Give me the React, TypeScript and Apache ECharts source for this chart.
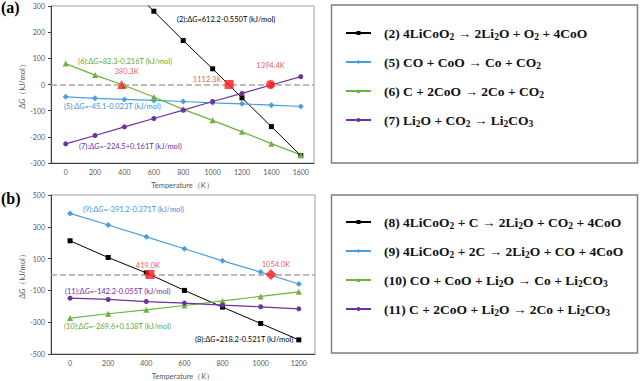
import React, { useEffect, useRef } from 'react';
import * as echarts from 'echarts';

// ---------- data ----------
const tempsA = [0, 200, 400, 600, 800, 1000, 1200, 1400, 1600];
const r2 = [null, null, 392, 280, 168, 60, -51, -161, -272];
const r5 = [-47, -53, -57, -61, -65, -70, -74, -79, -84];
const r6 = [80, 36, -4, -48, -95, -137, -181, -226, -269];
const r7 = [-227, -195, -162, -130, -98, -65, -34, -2, 30];
const crossA = [380.3, 1112.3, 1394.4];
const crossASymbols = ['triangle', 'rect', 'circle'];

const tempsB = [0, 200, 400, 600, 800, 1000, 1200];
const r8 = [212, 107, 10, -100, -205, -308, -411];
const r9 = [384, 311, 237, 162, 86, 15, -60];
const r10 = [-274, -247, -222, -195, -166, -138, -109];
const r11 = [-149, -157, -170, -180, -193, -203, -216];
const crossB = [419.0, 1054.0];
const crossBSymbols = ['rect', 'diamond'];

const yTicksA = [-300, -200, -100, 0, 100, 200, 300];
const yTicksB = [-500, -300, -100, 100, 300, 500];

const legendA = [
  ['r2', '(2) 4LiCoO_2 → 2Li_2O + O_2 + 4CoO'],
  ['r5', '(5) CO + CoO → Co + CO_2'],
  ['r6', '(6) C + 2CoO → 2Co + CO_2'],
  ['r7', '(7) Li_2O + CO_2 → Li_2CO_3'],
];
const legendB = [
  ['r8', '(8) 4LiCoO_2 + C → 2Li_2O + CO_2 + 4CoO'],
  ['r9', '(9) 4LiCoO_2 + 2C → 2Li_2O + CO + 4CoO'],
  ['r10', '(10) CO + CoO + Li_2O → Co + Li_2CO_3'],
  ['r11', '(11) C + 2CoO + Li_2O → 2Co + Li_2CO_3'],
];

const eqA = [
  ['(2):Δ{i|G}=612.2-0.550T (kJ/mol)', '#000000'],
  ['(6):Δ{i|G}=82.3-0.216T (kJ/mol)', '#5fa83a'],
  ['(5):Δ{i|G}=-45.1-0.023T (kJ/mol)', '#3d94dc'],
  ['(7):Δ{i|G}=-224.5+0.161T (kJ/mol)', '#7030a0'],
];
const eqB = [
  ['(9):Δ{i|G}=-391.2-0.371T (kJ/mol)', '#3d94dc'],
  ['(11):Δ{i|G}=-142.2-0.055T (kJ/mol)', '#7030a0'],
  ['(10):Δ{i|G}=-269.6+0.138T (kJ/mol)', '#5fa83a'],
  ['(8):Δ{i|G}=218.2-0.521T (kJ/mol)', '#000000'],
];

// ---------- styles ----------
const SANS = 'Lato, "Liberation Sans", sans-serif';
const SERIF = '"Liberation Serif", "DejaVu Serif", serif';
const BLACK = '#000000';
const BLUE = '#4a9ee0';
const GREEN = '#6db33f';
const PURPLE = '#7030a0';
const RED = '#ff1a1a';

const eqPosA = [[177, 19], [78, 61], [64, 106], [79, 146]];
const eqPosB = [[83, 209], [65, 291], [64, 326], [195, 339]];

const labelOffA = [[5, 0], [-22, 8], [0, -6]];
const labelOffB = [[-2, 4], [5, 4]];

function toRich(s: string) {
  return s
    .split(/(_\d)/)
    .filter((p) => p.length > 0)
    .map((p) => (p.startsWith('_') ? `{s|${p.slice(1)}}` : `{n|${p}}`))
    .join('');
}

function pairs(xs: number[], ys: (number | null)[]) {
  const out: number[][] = [];
  xs.forEach((x, i) => {
    const y = ys[i];
    if (y !== null && y !== undefined) out.push([x, y]);
  });
  return out;
}

function lineSeries(name: string, grid: number, xs: number[], ys: (number | null)[], color: string, symbol: string, size: number, width: number, extra: any = {}) {
  return {
    type: 'line',
    name,
    xAxisIndex: grid,
    yAxisIndex: grid,
    data: pairs(xs, ys),
    symbol,
    symbolSize: size,
    showSymbol: true,
    clip: true,
    color,
    itemStyle: { color },
    lineStyle: { color, width },
    z: 3,
    ...extra,
  };
}

function zeroLine() {
  return {
    markLine: {
      silent: true,
      symbol: ['none', 'none'],
      label: { show: false },
      lineStyle: { type: 'dashed', color: '#a6a6a6', width: 1.5 },
      data: [{ yAxis: 0 }],
    },
  };
}

function crossSeries(grid: number, xs: number[], syms: string[], offs: number[][]) {
  return {
    type: 'scatter',
    name: 'cross' + grid,
    xAxisIndex: grid,
    yAxisIndex: grid,
    z: 5,
    data: xs.map((x, i) => ({
      value: [x, 0],
      symbol: syms[i],
      symbolSize: syms[i] === 'diamond' ? 11 : 9,
      label: {
        show: true,
        position: 'top',
        distance: 5,
        offset: offs[i],
        formatter: x.toFixed(1) + 'K',
        color: '#e8302a',
        fontSize: 7.5,
        fontFamily: SANS,
      },
    })),
    itemStyle: { color: RED },
  };
}

function xAxis(grid: number, max: number, ticks: number[]) {
  return {
    type: 'value',
    gridIndex: grid,
    min: -100,
    max,
    axisLine: { show: true, onZero: false, lineStyle: { color: '#404040', width: 1 } },
    axisTick: { show: false },
    splitLine: { show: false },
    axisLabel: { customValues: ticks, formatter: (v: number) => String(v), color: '#595959', fontSize: 7, fontFamily: SANS, margin: 5 },
    name: 'Temperature（K）',
    nameLocation: 'middle',
    nameGap: 18,
    nameTextStyle: { color: '#595959', fontSize: 7.5, fontFamily: SANS },
  };
}

function yAxis(grid: number, min: number, max: number, ticks: number[]) {
  return {
    type: 'value',
    gridIndex: grid,
    min,
    max,
    axisLine: { show: true, onZero: false, lineStyle: { color: '#404040', width: 1 } },
    axisTick: { show: true, customValues: ticks, length: 3, lineStyle: { color: '#404040' } },
    splitLine: { show: false },
    axisLabel: { customValues: ticks, formatter: (v: number) => String(v), color: '#595959', fontSize: 7, fontFamily: SANS, margin: 6 },
    name: 'Δ{i|G}（kJ/mol）',
    nameLocation: 'middle',
    nameGap: 23,
    nameTextStyle: {
      color: '#595959',
      fontSize: 7.5,
      fontFamily: SANS,
      rich: { i: { fontStyle: 'italic', fontSize: 7.5, fontFamily: SANS, color: '#595959' } },
    },
  };
}

function legend(items: string[][], top: number) {
  const map: Record<string, string> = {};
  items.forEach(([k, v]) => (map[k] = toRich(v)));
  return {
    data: items.map(([k]) => k),
    orient: 'vertical',
    left: 340,
    top,
    itemWidth: 25,
    itemHeight: 5,
    itemGap: 13,
    selectedMode: false,
    formatter: (name: string) => map[name],
    textStyle: {
      padding: [0, 0, 0, 8],
      rich: {
        n: { fontFamily: SERIF, fontWeight: 'bold', fontSize: 13.5, lineHeight: 18, color: '#111' },
        s: { fontFamily: SERIF, fontWeight: 'bold', fontSize: 9.5, lineHeight: 18, verticalAlign: 'bottom', color: '#111' },
      },
    },
  };
}

function eqTexts(list: string[][], pos: number[][]) {
  return list.map(([t, c], i) => ({
    type: 'text',
    x: pos[i][0],
    y: pos[i][1],
    style: {
      text: t,
      fill: c,
      fontSize: 7.5,
      fontFamily: SANS,
      verticalAlign: 'middle',
      rich: { i: { fontStyle: 'italic', fontSize: 7.5, fontFamily: SANS, fill: c } },
    },
  }));
}

function buildOption() {
  return {
    animation: false,
    backgroundColor: '#ffffff',
    grid: [
      { left: 51, top: 6, width: 263, height: 157, show: true, borderColor: '#a0a0a0', borderWidth: 1 },
      { left: 51, top: 195, width: 264, height: 159, show: true, borderColor: '#a0a0a0', borderWidth: 1 },
    ],
    xAxis: [xAxis(0, 1690, tempsA), xAxis(1, 1285, tempsB)],
    yAxis: [yAxis(0, -300, 300, yTicksA), yAxis(1, -500, 500, yTicksB)],
    legend: [legend(legendA, 21), legend(legendB, 210)],
    series: [
      lineSeries('r2', 0, tempsA, r2, BLACK, 'rect', 5, 1),
      lineSeries('r5', 0, tempsA, r5, BLUE, 'diamond', 6, 1.2, zeroLine()),
      lineSeries('r6', 0, tempsA, r6, GREEN, 'triangle', 6, 1.2),
      lineSeries('r7', 0, tempsA, r7, PURPLE, 'circle', 5, 1.2),
      crossSeries(0, crossA, crossASymbols, labelOffA),
      lineSeries('r8', 1, tempsB, r8, BLACK, 'rect', 5, 1),
      lineSeries('r9', 1, tempsB, r9, BLUE, 'diamond', 6, 1.2, zeroLine()),
      lineSeries('r10', 1, tempsB, r10, GREEN, 'triangle', 6, 1.2),
      lineSeries('r11', 1, tempsB, r11, PURPLE, 'circle', 5, 1.2),
      crossSeries(1, crossB, crossBSymbols, labelOffB),
    ],
    graphic: [
      { type: 'rect', shape: { x: 331.5, y: 5, width: 306, height: 158 }, style: { fill: 'none', stroke: '#808080', lineWidth: 1.5 }, z: -1 },
      { type: 'rect', shape: { x: 331.5, y: 195, width: 306, height: 158 }, style: { fill: 'none', stroke: '#808080', lineWidth: 1.5 }, z: -1 },
      { type: 'text', x: 1, y: 7, style: { text: '(a)', fontFamily: SERIF, fontWeight: 'bold', fontSize: 16, fill: '#000', verticalAlign: 'middle' } },
      { type: 'text', x: 1, y: 198, style: { text: '(b)', fontFamily: SERIF, fontWeight: 'bold', fontSize: 16, fill: '#000', verticalAlign: 'middle' } },
      ...eqTexts(eqA, eqPosA),
      ...eqTexts(eqB, eqPosB),
    ],
  };
}

export default function App() {
  const ref = useRef<HTMLDivElement>(null);
  useEffect(() => {
    if (!ref.current) return;
    const chart = echarts.init(ref.current, null, { renderer: 'svg' });
    chart.setOption(buildOption() as any);
    return () => chart.dispose();
  }, []);
  return <div ref={ref} style={{ position: 'fixed', left: 0, top: 0, width: 640, height: 381 }} />;
}
